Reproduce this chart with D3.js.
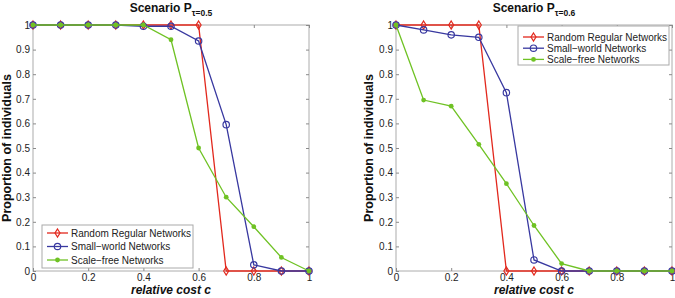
<!DOCTYPE html>
<html>
<head>
<meta charset="utf-8">
<script src="https://cdn.jsdelivr.net/npm/d3@7"></script>
<style>
	body { margin: 0; background: #fff; }
	svg { display: block; font-family: 'Liberation Sans', Arial, sans-serif; }
</style>
</head>
<body>
<div id="chart"></div>
<script>
// Relative cost values (x axis)
const costs = [0, 0.1, 0.2, 0.3, 0.4, 0.5, 0.6, 0.7, 0.8, 0.9, 1];
const xTicks = [0, 0.2, 0.4, 0.6, 0.8, 1];
const yTicks = [0, 0.1, 0.2, 0.3, 0.4, 0.5, 0.6, 0.7, 0.8, 0.9, 1];

const seriesNames = ['Random Regular Networks', 'Small\u2212world Networks', 'Scale\u2212free Networks'];

// Scenario tau = 0.5
const random05 = [1, 1, 1, 1, 1, 1, 1, 0, 0, 0, 0];
const small05 = [1, 1, 1, 1, 0.995, 0.995, 0.935, 0.595, 0.025, 0, 0];
const scale05 = [1, 1, 1, 1, 1, 0.94, 0.50, 0.30, 0.18, 0.055, 0];

// Scenario tau = 0.6
const random06 = [1, 1, 1, 1, 0, 0, 0, 0, 0, 0, 0];
const small06 = [1, 0.98, 0.96, 0.95, 0.725, 0.045, 0, 0, 0, 0, 0];
const scale06 = [1, 0.695, 0.67, 0.515, 0.355, 0.185, 0.03, 0, 0, 0, 0];

const colors = ['#e2281d', '#3838a0', '#6fc224'];
const markers = ['diamond', 'circle', 'dot'];

const width = 675, height = 298;
const svg = d3.select('#chart').append('svg')
	.attr('width', width)
	.attr('height', height);

function drawMarker(g, type, color, x, y) {
	if (type === 'diamond') {
		g.append('path')
			.attr('d', `M${x},${y - 4}L${x + 2.5},${y}L${x},${y + 4}L${x - 2.5},${y}Z`)
			.attr('fill', 'none').attr('stroke', color).attr('stroke-width', 1.2);
	} else if (type === 'circle') {
		g.append('circle').attr('cx', x).attr('cy', y).attr('r', 3.2)
			.attr('fill', 'none').attr('stroke', color).attr('stroke-width', 1.2);
	} else {
		g.append('circle').attr('cx', x).attr('cy', y).attr('r', 2.4)
			.attr('fill', color);
	}
}

function drawPanel(opts) {
	const { left, right, sub, series, legend, yLabelX } = opts;
	const top = 25, bottom = 271;
	const x = d3.scaleLinear().domain([0, 1]).range([left, right]);
	const y = d3.scaleLinear().domain([0, 1]).range([bottom, top]);
	const g = svg.append('g');

	// frame
	g.append('rect')
		.attr('x', left).attr('y', top)
		.attr('width', right - left).attr('height', bottom - top)
		.attr('fill', 'none').attr('stroke', '#c8c8c8').attr('stroke-width', 1.5);

	// axes with inner ticks
	const ax = g.append('g').attr('transform', `translate(0,${bottom})`)
		.call(d3.axisBottom(x).tickValues(xTicks).tickSize(-3).tickPadding(3).tickFormat(d3.format('')));
	const ax2 = g.append('g').attr('transform', `translate(0,${top})`)
		.call(d3.axisTop(x).tickValues(xTicks).tickSize(-3).tickFormat(''));
	const ay = g.append('g').attr('transform', `translate(${left},0)`)
		.call(d3.axisLeft(y).tickValues(yTicks).tickSize(-3).tickPadding(3).tickFormat(d3.format('')));
	const ay2 = g.append('g').attr('transform', `translate(${right},0)`)
		.call(d3.axisRight(y).tickValues(yTicks).tickSize(-3).tickFormat(''));
	[ax, ax2, ay, ay2].forEach((a) => {
		a.select('.domain').remove();
		a.selectAll('line').attr('stroke', '#8a8a8a');
		a.selectAll('text').attr('fill', '#222').style('font-size', '10px');
	});

	// series lines and markers
	series.forEach((vals, i) => {
		const pts = costs.map((c, j) => [x(c), y(vals[j])]);
		g.append('path')
			.attr('d', d3.line()(pts))
			.attr('fill', 'none')
			.attr('stroke', colors[i])
			.attr('stroke-width', 1.3);
		pts.forEach((p) => drawMarker(g, markers[i], colors[i], p[0], p[1]));
	});

	// title with subscript
	const t = g.append('text')
		.attr('x', (left + right) / 2)
		.attr('y', 12)
		.attr('text-anchor', 'middle')
		.style('font-size', '12px')
		.style('font-weight', 'bold')
		.attr('fill', '#111');
	t.append('tspan').text('Scenario P');
	t.append('tspan').attr('dy', 4).style('font-size', '8.5px').text(sub);

	// x label
	g.append('text')
		.attr('x', (left + right) / 2)
		.attr('y', 294)
		.attr('text-anchor', 'middle')
		.style('font-size', '12px')
		.style('font-weight', 'bold')
		.style('font-style', 'italic')
		.attr('fill', '#111')
		.text('relative cost c');

	// y label
	g.append('text')
		.attr('transform', `translate(${yLabelX},${(top + bottom) / 2}) rotate(-90)`)
		.attr('text-anchor', 'middle')
		.style('font-size', '12.5px')
		.style('font-weight', 'bold')
		.attr('fill', '#111')
		.text('Proportion of individuals');

	// legend
	const lg = g.append('g');
	lg.append('rect')
		.attr('x', legend.x).attr('y', legend.y)
		.attr('width', legend.w).attr('height', legend.h)
		.attr('fill', '#fff').attr('stroke', '#aaa').attr('stroke-width', 1);
	seriesNames.forEach((name, i) => {
		const ly = legend.y + legend.first + i * legend.step;
		lg.append('line')
			.attr('x1', legend.x + 5).attr('x2', legend.x + 26)
			.attr('y1', ly).attr('y2', ly)
			.attr('stroke', colors[i]).attr('stroke-width', 1.3);
		drawMarker(lg, markers[i], colors[i], legend.x + 15.5, ly);
		lg.append('text')
			.attr('x', legend.x + 29).attr('y', ly + 3.6)
			.style('font-size', '10px')
			.attr('fill', '#222')
			.text(name);
	});
}

drawPanel({
	left: 33, right: 309, sub: '\u03c4=0.5',
	series: [random05, small05, scale05],
	legend: { x: 42, y: 225, w: 151, h: 43, first: 8, step: 13.5 },
	yLabelX: 11
});

drawPanel({
	left: 396, right: 672, sub: '\u03c4=0.6',
	series: [random06, small06, scale06],
	legend: { x: 518, y: 26, w: 151, h: 39, first: 11, step: 11.2 },
	yLabelX: 373
});
</script>
</body>
</html>
